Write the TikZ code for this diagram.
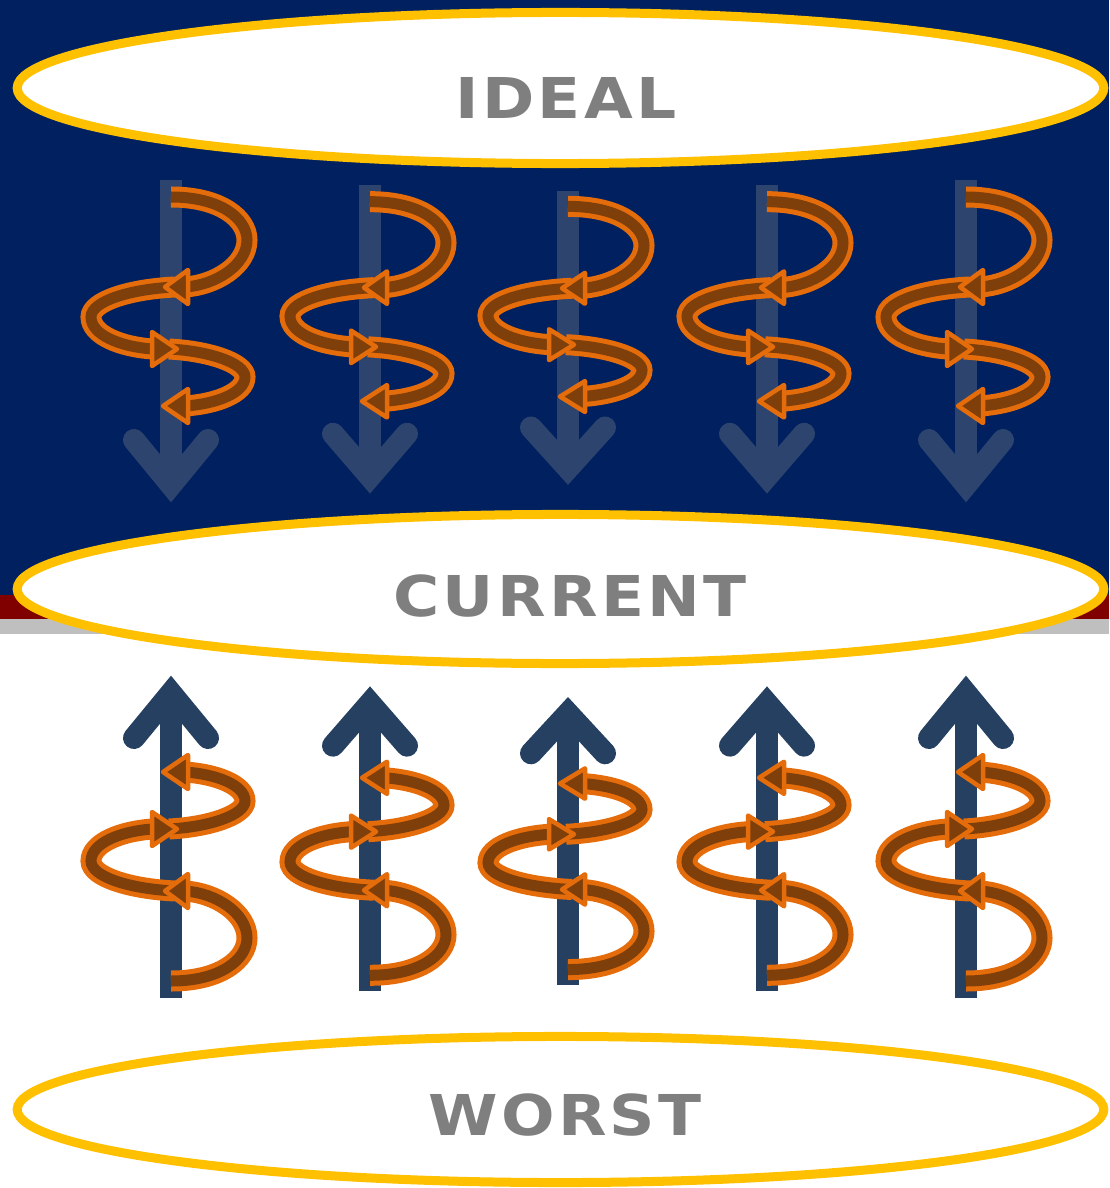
\documentclass[tikz,border=0pt]{standalone}
\usepackage{fontspec}
\setmainfont{DejaVu Sans}
\usetikzlibrary{shapes.geometric}
\definecolor{navy}{RGB}{0,32,96}
\definecolor{darkred}{RGB}{128,0,0}
\definecolor{stripgray}{RGB}{191,191,191}
\definecolor{gold}{RGB}{255,192,0}
\definecolor{labelgray}{RGB}{127,127,127}
\definecolor{ribbon}{RGB}{228,108,10}
\definecolor{ribbonin}{RGB}{127,63,10}
\definecolor{shaftdim}{RGB}{44,68,110}
\definecolor{shaftdark}{RGB}{37,64,97}
\tikzset{
  band/.style={ellipse, draw=gold, fill=white, line width=0.09cm, inner sep=0pt},
  tag/.style={text=labelgray, font=\fontsize{16}{20}\selectfont\bfseries\addfontfeature{FakeStretch=1.12, LetterSpace=6}},
  strip/.style={draw=ribbon, line width=0.05cm, double=ribbonin, double distance=0.11cm},
  barb/.style={draw=ribbon, fill=ribbonin, line width=0.045cm, line join=round},
  pics/helix/.style={code={
    \draw[#1, line width=0.22cm] (0,-121) -- (0,184);
    \draw[#1, line width=0.22cm, line cap=round, line join=miter] (-37,139) -- (0,184) -- (37,139);
    % ribbon, three turns
    \draw[strip] (0,-104) .. controls (50,-104) and (76,-82) .. (76,-61)
      .. controls (76,-36) and (45,-16) .. (14,-14);
    \draw[strip] (4,-14) .. controls (-40,-12) and (-80,0) .. (-80,16)
      .. controls (-80,34) and (-50,46) .. (-18,48);
    \draw[strip] (-2,48) .. controls (38,50) and (74,62) .. (74,76)
      .. controls (74,92) and (45,103) .. (14,105);
    \draw[barb] (-6,-14) -- (17,-31) -- (17,3) -- cycle;
    \draw[barb] (6,48) -- (-19,31) -- (-19,65) -- cycle;
    \draw[barb] (-8,105) -- (17,88) -- (17,122) -- cycle;
  }}
}
\begin{document}
\begin{tikzpicture}[x=0.01cm, y=-0.01cm, line cap=butt]
  \useasboundingbox (0,0) rectangle (1109,1188);
  \fill[white] (0,0) rectangle (1109,1188);
  \fill[navy] (0,0) rectangle (1109,595);
  \fill[darkred] (0,595) rectangle (1109,619);
  \fill[stripgray] (0,619) rectangle (1109,634);

  \node[band, minimum width=10.86cm, minimum height=1.51cm] (ideal) at (560.5,88) {};
  \node[band, minimum width=10.86cm, minimum height=1.49cm] (current) at (560.5,589) {};
  \node[band, minimum width=10.86cm, minimum height=1.46cm] (worst) at (560.5,1109.5) {};
  \node[tag] (idealtxt) at (566,97.5) {IDEAL};
  \node[tag] (currenttxt) at (570,596.5) {CURRENT};
  \node[tag] (worsttxt) at (565,1115) {WORST};

  \foreach \x/\s in {171/1, 370/0.955, 568/0.91, 767/0.955, 966/1}
    \pic[yscale=\s] at (\x,301) {helix=shaftdim};
  \foreach \x/\s in {171/1, 370/0.945, 568/0.89, 767/0.945, 966/1}
    \pic[yscale=-\s] at (\x,877) {helix=shaftdark};
\end{tikzpicture}
\end{document}
